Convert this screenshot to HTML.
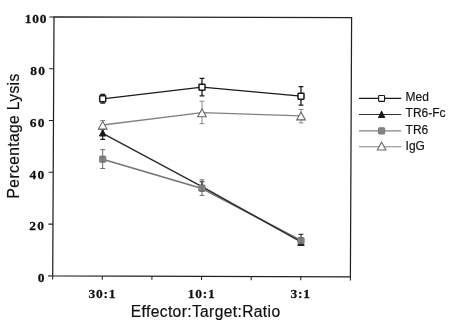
<!DOCTYPE html>
<html><head><meta charset="utf-8"><title>Percentage Lysis</title>
<style>
html,body{margin:0;padding:0;background:#fff}
svg{display:block}
.tk{font-family:"Liberation Serif",serif;font-weight:bold;font-size:12.6px;letter-spacing:0.7px;fill:#111;stroke:#111;stroke-width:0.25px}
.ax{font-family:"Liberation Sans",sans-serif;font-size:15.6px;letter-spacing:0.37px;fill:#111;stroke:#111;stroke-width:0.2px}
.lg{font-family:"Liberation Sans",sans-serif;font-size:12px;fill:#111;stroke:#111;stroke-width:0.15px}
</style></head><body>
<svg width="472" height="325" viewBox="0 0 472 325">
<rect width="472" height="325" fill="#fff"/>
<path d="M52.7 275.9L54.0 17.0L351.6 17.7L350.4 276.9Z" fill="none" stroke="#222" stroke-width="1.25" stroke-linejoin="miter"/>
<path d="M48.10 275.88L52.70 275.90" stroke="#222" stroke-width="1.05"/>
<path d="M48.36 224.10L52.96 224.12" stroke="#222" stroke-width="1.05"/>
<path d="M48.62 172.32L53.22 172.34" stroke="#222" stroke-width="1.05"/>
<path d="M48.88 120.54L53.48 120.56" stroke="#222" stroke-width="1.05"/>
<path d="M49.14 68.76L53.74 68.78" stroke="#222" stroke-width="1.05"/>
<path d="M49.40 16.98L54.00 17.00" stroke="#222" stroke-width="1.05"/>
<path d="M52.70 275.90L52.68 279.50" stroke="#222" stroke-width="1.05"/>
<path d="M102.32 276.07L102.30 279.67" stroke="#222" stroke-width="1.05"/>
<path d="M151.93 276.23L151.91 279.83" stroke="#222" stroke-width="1.05"/>
<path d="M201.55 276.40L201.53 280.00" stroke="#222" stroke-width="1.05"/>
<path d="M251.17 276.57L251.15 280.17" stroke="#222" stroke-width="1.05"/>
<path d="M300.78 276.73L300.76 280.33" stroke="#222" stroke-width="1.05"/>
<path d="M350.40 276.90L350.38 280.50" stroke="#222" stroke-width="1.05"/>
<text transform="translate(45.70 282.1) scale(1.07 1)" text-anchor="end" class="tk" style="letter-spacing:1.2px">0</text>
<text transform="translate(45.22 230.3) scale(1.07 1)" text-anchor="end" class="tk" style="letter-spacing:1.2px">20</text>
<text transform="translate(45.54 178.5) scale(1.07 1)" text-anchor="end" class="tk" style="letter-spacing:1.2px">40</text>
<text transform="translate(45.86 126.8) scale(1.07 1)" text-anchor="end" class="tk" style="letter-spacing:1.2px">60</text>
<text transform="translate(46.18 75.0) scale(1.07 1)" text-anchor="end" class="tk" style="letter-spacing:1.2px">80</text>
<text transform="translate(47.30 23.2) scale(1.07 1)" text-anchor="end" class="tk" style="letter-spacing:0.7px">100</text>
<text transform="translate(102.4 297.8) scale(1.07 1)" text-anchor="middle" class="tk">30:1</text>
<text transform="translate(201.7 297.8) scale(1.07 1)" text-anchor="middle" class="tk">10:1</text>
<text transform="translate(300.7 297.8) scale(1.07 1)" text-anchor="middle" class="tk">3:1</text>
<text x="130.8" y="316.8" class="ax">Effector:Target:Ratio</text>
<text transform="translate(19.4 198.4) rotate(-90)" class="ax">Percentage Lysis</text>
<path d="M102.7 159.3L202.0 188.5L301.0 240.5" stroke="#747474" stroke-width="1.6" fill="none"/>
<path d="M102.7 133.4L202.0 186.6L301.0 241.8" stroke="#2a2a2a" stroke-width="1.4" fill="none"/>
<path d="M102.7 125.0L202.0 112.7L301.0 115.9" stroke="#808080" stroke-width="1.3" fill="none"/>
<path d="M102.7 98.8L202.0 87.2L301.0 96.2" stroke="#1a1a1a" stroke-width="1.25" fill="none"/>
<path d="M102.7 129.5V139.4M100.3 129.5H105.10000000000001M100.3 139.4H105.10000000000001" stroke="#1a1a1a" stroke-width="1.1" fill="none"/>
<path d="M102.7 129.60L105.90 136.00H99.50Z" fill="#1a1a1a" stroke="#1a1a1a" stroke-width="1.0" stroke-linejoin="miter"/>
<path d="M202.0 181.7V191.2M199.6 181.7H204.4M199.6 191.2H204.4" stroke="#1a1a1a" stroke-width="1.1" fill="none"/>
<path d="M202.0 183.40L205.20 189.80H198.80Z" fill="#1a1a1a" stroke="#1a1a1a" stroke-width="1.0" stroke-linejoin="miter"/>
<path d="M301.0 234.2V245.0M298.6 234.2H303.4M298.6 245.0H303.4" stroke="#1a1a1a" stroke-width="1.1" fill="none"/>
<path d="M301.0 239.00L304.20 245.40H297.80Z" fill="#1a1a1a" stroke="#1a1a1a" stroke-width="1.0" stroke-linejoin="miter"/>
<rect x="99.60" y="156.10" width="6.2" height="6.2" fill="#858585" stroke="#7a7a7a" stroke-width="1.0" rx="0.6"/>
<path d="M102.7 149.6V168.5M100.3 149.6H105.10000000000001M100.3 168.5H105.10000000000001" stroke="#6c6c6c" stroke-width="1.0" fill="none"/>
<rect x="198.90" y="185.00" width="6.2" height="6.2" fill="#858585" stroke="#7a7a7a" stroke-width="1.0" rx="0.6"/>
<path d="M202.0 179.8V195.4M199.6 179.8H204.4M199.6 195.4H204.4" stroke="#6c6c6c" stroke-width="1.0" fill="none"/>
<rect x="297.90" y="237.50" width="6.2" height="6.2" fill="#858585" stroke="#7a7a7a" stroke-width="1.0" rx="0.6"/>
<path d="M301.0 238.0V243.0M298.6 238.0H303.4M298.6 243.0H303.4" stroke="#6c6c6c" stroke-width="1.0" fill="none"/>
<path d="M102.7 120.5V129.0M100.3 120.5H105.10000000000001M100.3 129.0H105.10000000000001" stroke="#888" stroke-width="1.0" fill="none"/>
<path d="M102.7 121.30L107.00 129.10H98.40Z" fill="#fff" stroke="#666" stroke-width="1.1" stroke-linejoin="miter"/>
<path d="M202.0 101.2V123.7M199.6 101.2H204.4M199.6 123.7H204.4" stroke="#888" stroke-width="1.0" fill="none"/>
<path d="M202.0 109.00L206.30 116.80H197.70Z" fill="#fff" stroke="#666" stroke-width="1.1" stroke-linejoin="miter"/>
<path d="M301.0 109.5V122.9M298.6 109.5H303.4M298.6 122.9H303.4" stroke="#888" stroke-width="1.0" fill="none"/>
<path d="M301.0 112.10L305.30 119.90H296.70Z" fill="#fff" stroke="#666" stroke-width="1.1" stroke-linejoin="miter"/>
<path d="M102.7 94.5V103.1M100.3 94.5H105.10000000000001M100.3 103.1H105.10000000000001" stroke="#1a1a1a" stroke-width="1.3" fill="none"/>
<rect x="99.70" y="95.80" width="6.0" height="6.0" fill="#fff" stroke="#1a1a1a" stroke-width="1.5" rx="0.6"/>
<path d="M202.0 78.3V95.8M199.6 78.3H204.4M199.6 95.8H204.4" stroke="#1a1a1a" stroke-width="1.3" fill="none"/>
<rect x="199.00" y="84.20" width="6.0" height="6.0" fill="#fff" stroke="#1a1a1a" stroke-width="1.5" rx="0.6"/>
<path d="M301.0 86.7V105.1M298.6 86.7H303.4M298.6 105.1H303.4" stroke="#1a1a1a" stroke-width="1.3" fill="none"/>
<rect x="298.00" y="93.20" width="6.0" height="6.0" fill="#fff" stroke="#1a1a1a" stroke-width="1.5" rx="0.6"/>
<path d="M359.0 98.4H401.2" stroke="#1a1a1a" stroke-width="1.1"/>
<rect x="378.65" y="95.45" width="5.9" height="5.9" fill="#fff" stroke="#1a1a1a" stroke-width="1.15" rx="0.6"/>
<path d="M359.0 114.5H401.2" stroke="#333" stroke-width="1.1"/>
<path d="M381.6 111.10L384.75 117.50H378.45Z" fill="#1a1a1a" stroke="#1a1a1a" stroke-width="1.0" stroke-linejoin="miter"/>
<path d="M359.0 130.9H401.2" stroke="#858585" stroke-width="1.1"/>
<rect x="378.50" y="127.80" width="6.2" height="6.2" fill="#858585" stroke="#7a7a7a" stroke-width="1.0" rx="0.6"/>
<path d="M359.0 146.7H401.2" stroke="#858585" stroke-width="1.1"/>
<path d="M381.6 142.20L385.90 150.00H377.30Z" fill="#fff" stroke="#6a6a6a" stroke-width="1.1" stroke-linejoin="miter"/>
<text x="405.6" y="101.2" class="lg">Med</text>
<text x="405.6" y="117.3" class="lg">TR6-Fc</text>
<text x="405.6" y="133.7" class="lg">TR6</text>
<text x="405.6" y="149.5" class="lg">IgG</text>
</svg>
</body></html>
